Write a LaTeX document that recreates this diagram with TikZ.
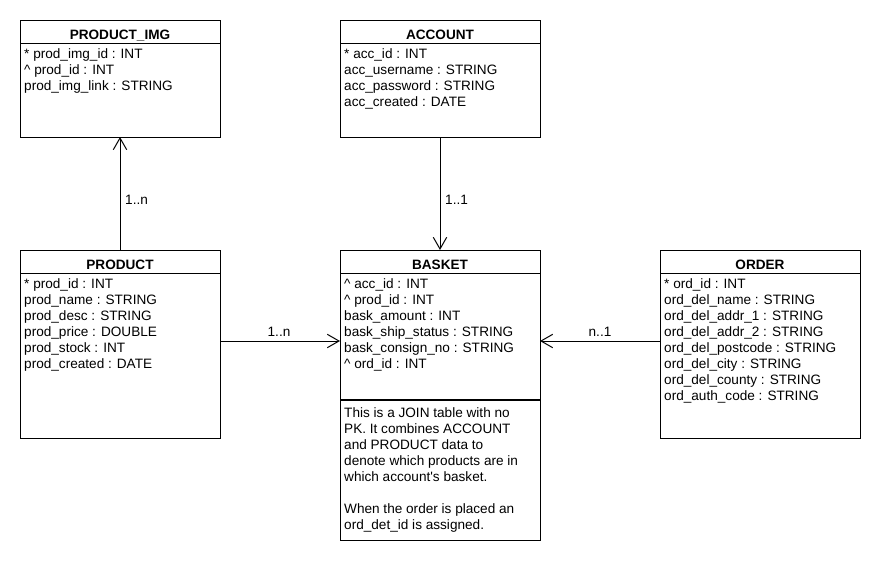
\documentclass[tikz,border=0pt]{standalone}
\usepackage{fontspec}
\setmainfont{Liberation Sans}
\usetikzlibrary{arrows.meta}
\newcommand\attrfont{\fontsize{13.6}{16}\selectfont}
\begin{document}
\begin{tikzpicture}[x=1pt,y=-1pt,
  tbl/.style={draw, line width=1pt, minimum width=200pt, inner sep=0pt, outer sep=0pt, anchor=north west},
  ttl/.style={font=\attrfont\bfseries, anchor=base, inner sep=0pt},
  attrs/.style={font=\attrfont, align=left, anchor=north west, inner sep=0pt},
  sepline/.style={line width=1pt},
  rel/.style={line width=1pt, -{Straight Barb[length=11.7pt,width=13.4pt]}},
  mult/.style={font=\attrfont, inner sep=0pt}]
\fill[white] (0,0) rectangle (880,560);
\useasboundingbox (0,0) rectangle (880,560);

% PRODUCT_IMG
\node[tbl, minimum height=117pt] (img) at (20,20) {};
\node[ttl] (imgT) at (120,39.5) {PRODUCT\_IMG};
\draw[sepline] ([yshift=-23pt]img.north west) -- ([yshift=-23pt]img.north east);
\node[attrs] (imgA) at (24,47) {\strut * prod\_img\_id : INT\\
\textasciicircum{} prod\_id : INT\\
prod\_img\_link : STRING};

% ACCOUNT
\node[tbl, minimum height=117pt] (acc) at (340,20) {};
\node[ttl] (accT) at (440,39.5) {ACCOUNT};
\draw[sepline] ([yshift=-23pt]acc.north west) -- ([yshift=-23pt]acc.north east);
\node[attrs] (accA) at (344,47) {\strut * acc\_id : INT\\
acc\_username : STRING\\
acc\_password : STRING\\
acc\_created : DATE};

% PRODUCT
\node[tbl, minimum height=188pt] (prod) at (20,250) {};
\node[ttl] (prodT) at (120,269.5) {PRODUCT};
\draw[sepline] ([yshift=-23pt]prod.north west) -- ([yshift=-23pt]prod.north east);
\node[attrs] (prodA) at (24,277) {\strut * prod\_id : INT\\
prod\_name : STRING\\
prod\_desc : STRING\\
prod\_price : DOUBLE\\
prod\_stock : INT\\
prod\_created : DATE};

% BASKET
\node[tbl, minimum height=290pt] (bask) at (340,250) {};
\node[ttl] (baskT) at (440,269.5) {BASKET};
\draw[sepline] ([yshift=-23pt]bask.north west) -- ([yshift=-23pt]bask.north east);
\node[attrs] (baskA) at (344,277) {\strut \textasciicircum{} acc\_id : INT\\
\textasciicircum{} prod\_id : INT\\
bask\_amount : INT\\
bask\_ship\_status : STRING\\
bask\_consign\_no : STRING\\
\textasciicircum{} ord\_id : INT};
\draw[line width=2pt] ([yshift=-150pt]bask.north west) -- ([yshift=-150pt]bask.north east);
\node[attrs] (baskN) at (344,406) {\strut This is a JOIN table with no\\
PK. It combines ACCOUNT\\
and PRODUCT data to\\
denote which products are in\\
which account\textquotesingle s basket.\\[16pt]
When the order is placed an\\
ord\_det\_id is assigned.};

% ORDER
\node[tbl, minimum height=188pt] (ord) at (660,250) {};
\node[ttl] (ordT) at (760,269.5) {ORDER};
\draw[sepline] ([yshift=-23pt]ord.north west) -- ([yshift=-23pt]ord.north east);
\node[attrs] (ordA) at (664,277) {\strut * ord\_id : INT\\
ord\_del\_name : STRING\\
ord\_del\_addr\_1 : STRING\\
ord\_del\_addr\_2 : STRING\\
ord\_del\_postcode : STRING\\
ord\_del\_city : STRING\\
ord\_del\_county : STRING\\
ord\_auth\_code : STRING};

% Relations
\draw[rel] (prod.north) -- (img.south);
\node[mult, anchor=base west] (m1) at (125,204) {1..n};
\draw[rel] (acc.south) -- (bask.north);
\node[mult, anchor=base west] (m2) at (445,204) {1..1};
\draw[rel] ([yshift=3pt]prod.east) -- ([yshift=3pt]prod.east -| bask.west);
\node[mult, anchor=base] (m3) at (279,336) {1..n};
\draw[rel] ([yshift=3pt]ord.west) -- ([yshift=3pt]ord.west -| bask.east);
\node[mult, anchor=base] (m4) at (600,336) {n..1};
\end{tikzpicture}
\end{document}
